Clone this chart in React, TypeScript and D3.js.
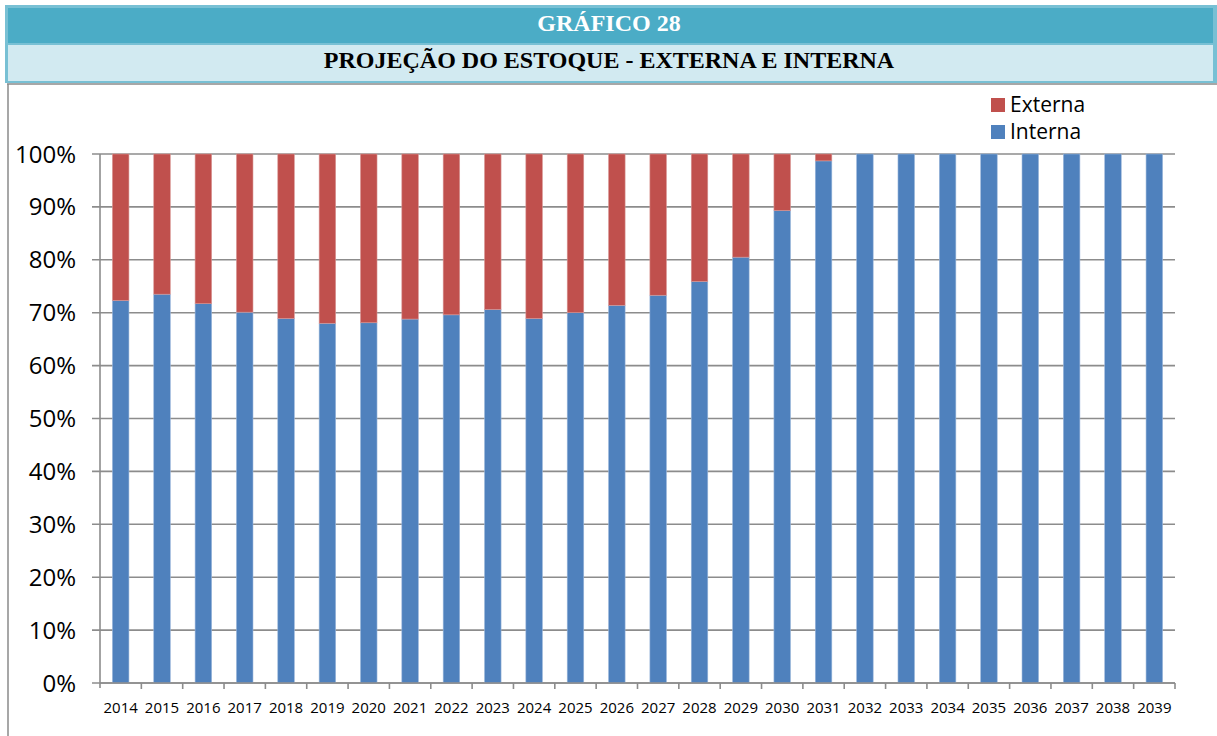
import React from "react";
import * as d3 from "d3";

const years = ["2014","2015","2016","2017","2018","2019","2020","2021","2022","2023","2024","2025","2026","2027","2028","2029","2030","2031","2032","2033","2034","2035","2036","2037","2038","2039"];
const interna = [72.3,73.5,71.7,70.1,68.9,68.0,68.1,68.8,69.6,70.6,68.9,70.0,71.4,73.3,75.9,80.5,89.3,98.7,100,100,100,100,100,100,100,100];
const externa = interna.map((v) => 100 - v);
const yTicks = [0,10,20,30,40,50,60,70,80,90,100];
const seriesNames = ["Externa", "Interna"];
const colors = { Interna: "#4F81BD", Externa: "#C0504D" };

export default function App() {
  const W = 1217, H = 736;
  const x0 = 100, x1 = 1175, yTop = 154, yBot = 683;
  const x = d3.scaleBand<string>().domain(years).range([x0, x1]).paddingInner(0.6).paddingOuter(0.3);
  const xb = d3.scaleBand<string>().domain(years).range([x0, x1]);
  const y = d3.scaleLinear().domain([0, 100]).range([yBot, yTop]);
  const font = "'Open Sans', Carlito, Lato, sans-serif";
  const serif = "'Liberation Serif', 'Times New Roman', serif";
  return (
    <div style={{ position: "absolute", left: 0, top: 0, width: W, height: H, background: "#fff" }}>
      <svg width={W} height={H} style={{ display: "block" }}>
        {/* header */}
        <rect x={5} y={5} width={1212} height={78} fill="#78C0D4" />
        <rect x={8} y={8} width={1205} height={35} fill="#4BACC6" />
        <rect x={8} y={45} width={1205} height={36} fill="#D2EAF1" />
        <text x={609} y={31} textAnchor="middle" fill="#fff" fontFamily={serif} fontWeight="bold" fontSize={24}>GRÁFICO 28</text>
        <text x={609} y={68} textAnchor="middle" fill="#000" fontFamily={serif} fontWeight="bold" fontSize={24}>PROJEÇÃO DO ESTOQUE - EXTERNA E INTERNA</text>
        {/* chart frame */}
        <line x1={7} x2={W} y1={84} y2={84} stroke="#8a8a8a" strokeWidth={1.5} />
        <line x1={8} x2={8} y1={84} y2={H} stroke="#8a8a8a" strokeWidth={1.5} />
        {/* gridlines */}
        {yTicks.map((t) => (
          <g key={t}>
            <line x1={92} x2={x1} y1={y(t)} y2={y(t)} stroke="#8c8c8c" strokeWidth={1.6} />
            <text x={76} y={y(t) + 8.5} textAnchor="end" fontFamily={font} fontSize={24} fill="#000">{t}%</text>
          </g>
        ))}
        {/* bars */}
        {years.map((yr, i) => (
          <g key={yr}>
            <rect x={x(yr)} y={y(interna[i])} width={x.bandwidth()} height={y(0) - y(interna[i])} fill={colors.Interna} stroke="#9bb7db" strokeWidth={0.6} />
            {externa[i] > 0.01 && (
              <rect x={x(yr)} y={y(100)} width={x.bandwidth()} height={y(interna[i]) - y(100)} fill={colors.Externa} stroke="#d99795" strokeWidth={0.6} />
            )}
          </g>
        ))}
        {/* axes */}
        <line x1={x0} x2={x0} y1={yTop} y2={yBot + 5} stroke="#8c8c8c" strokeWidth={1.6} />
        <line x1={x0} x2={x1} y1={yBot} y2={yBot} stroke="#8c8c8c" strokeWidth={1.6} />
        {years.map((yr) => (
          <line key={"t" + yr} x1={(xb(yr) as number) + xb.bandwidth()} x2={(xb(yr) as number) + xb.bandwidth()} y1={yBot} y2={yBot + 6} stroke="#8c8c8c" strokeWidth={1.6} />
        ))}
        {years.map((yr) => (
          <text key={"l" + yr} x={(xb(yr) as number) + xb.bandwidth() / 2} y={713} textAnchor="middle" fontFamily={font} fontSize={15} fill="#000">{yr}</text>
        ))}
        {/* legend */}
        {seriesNames.map((s, i) => (
          <g key={s}>
            <rect x={991} y={98 + i * 27} width={14} height={14} fill={colors[s as "Externa" | "Interna"]} />
            <text x={1010} y={112 + i * 27} fontFamily={font} fontSize={21} fill="#000">{s}</text>
          </g>
        ))}
      </svg>
    </div>
  );
}
